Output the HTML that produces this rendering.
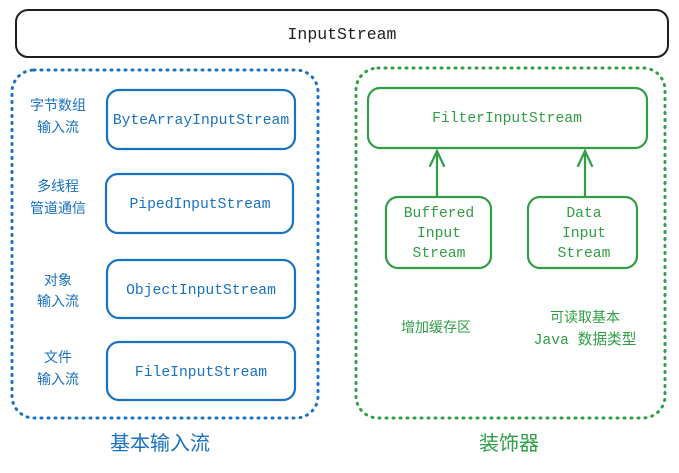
<!DOCTYPE html>
<html><head><meta charset="utf-8"><style>
html,body{margin:0;padding:0;background:#fff;}
svg{display:block;}
.m{font-family:"Liberation Mono","DejaVu Sans Mono",monospace;}
.c{font-family:"Liberation Sans","Noto Sans CJK SC",sans-serif;}
</style></head><body>
<svg width="679" height="473" viewBox="0 0 679 473" xmlns="http://www.w3.org/2000/svg">
<rect x="16" y="10" width="652" height="47" rx="12" fill="#fff" stroke="#1e1e1e" stroke-width="2"/>
<text x="342" y="39" text-anchor="middle" class="m" font-size="16.5" fill="#1e1e1e">InputStream</text>

<rect x="12" y="70" width="306" height="348" rx="22" fill="none" stroke="#1971c2" stroke-width="3" stroke-dasharray="1 6" stroke-linecap="round"/>
<g fill="none" stroke="#1971c2" stroke-width="2.2">
<rect x="107" y="90" width="188" height="59" rx="12"/>
<rect x="106" y="174" width="187" height="59" rx="12"/>
<rect x="107" y="260" width="188" height="58" rx="12"/>
<rect x="107" y="342" width="188" height="58" rx="12"/>
</g>
<g class="m" font-size="14.7" fill="#1971c2" text-anchor="middle">
<text x="201" y="124">ByteArrayInputStream</text>
<text x="200" y="208">PipedInputStream</text>
<text x="201" y="294">ObjectInputStream</text>
<text x="201" y="376">FileInputStream</text>
</g>
<g class="c" font-size="14" fill="#1971c2" text-anchor="middle">
<text x="58" y="110">字节数组</text><text x="58" y="132">输入流</text>
<text x="58" y="191">多线程</text><text x="58" y="213">管道通信</text>
<text x="58" y="285">对象</text><text x="58" y="306">输入流</text>
<text x="58" y="362">文件</text><text x="58" y="384">输入流</text>
</g>
<text x="160" y="450" text-anchor="middle" class="c" font-size="20" fill="#1971c2">基本输入流</text>

<rect x="356" y="68" width="309" height="350" rx="22" fill="none" stroke="#2f9e44" stroke-width="3" stroke-dasharray="1 6" stroke-linecap="round"/>
<g fill="none" stroke="#2f9e44" stroke-width="2.2">
<rect x="368" y="88" width="279" height="60" rx="12"/>
<rect x="386" y="197" width="105" height="71" rx="12"/>
<rect x="528" y="197" width="109" height="71" rx="12"/>
<path d="M437 196V152M430 166L437 151L444 166M585 196V152M578 166L585 151L592 166" stroke-linecap="round"/>
</g>
<g class="m" font-size="14.7" fill="#2f9e44" text-anchor="middle">
<text x="507" y="122">FilterInputStream</text>
<text x="439" y="217">Buffered</text><text x="439" y="237">Input</text><text x="439" y="257">Stream</text>
<text x="584" y="217">Data</text><text x="584" y="237">Input</text><text x="584" y="257">Stream</text>
<text x="585" y="344">Java 数据类型</text>
</g>
<g class="c" font-size="14" fill="#2f9e44" text-anchor="middle">
<text x="436" y="332">增加缓存区</text>
<text x="585" y="322">可读取基本</text>
</g>
<text x="509" y="450" text-anchor="middle" class="c" font-size="20" fill="#2f9e44">装饰器</text>
</svg>
</body></html>
